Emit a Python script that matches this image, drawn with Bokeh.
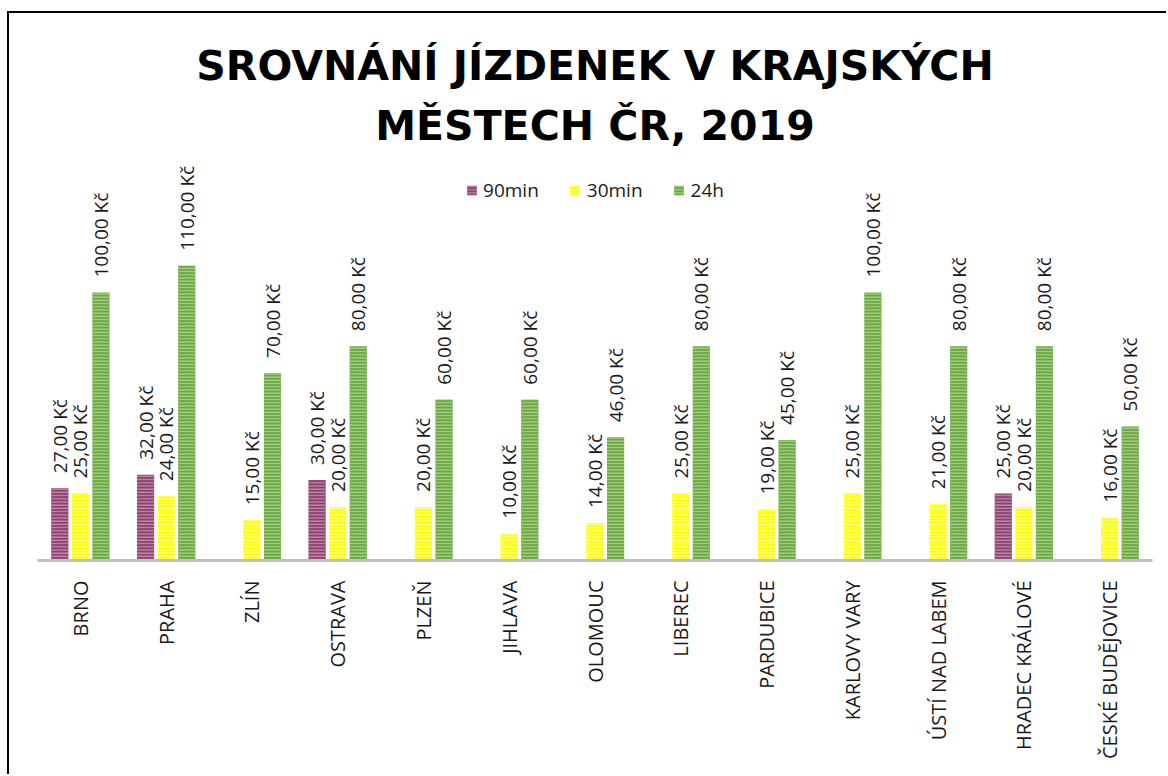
import math
from bokeh.plotting import figure
from bokeh.models import ColumnDataSource, FactorRange, Range1d, Title, Legend, LegendItem
from bokeh.transform import dodge
from bokeh.core.properties import value
from bokeh.embed import file_html
from bokeh.resources import INLINE

cities = ["BRNO", "PRAHA", "ZLÍN", "OSTRAVA", "PLZEŇ", "JIHLAVA", "OLOMOUC",
          "LIBEREC", "PARDUBICE", "KARLOVY VARY", "ÚSTÍ NAD LABEM",
          "HRADEC KRÁLOVÉ", "ČESKÉ BUDĚJOVICE"]
v90 = [27, 32, None, 30, None, None, None, None, None, None, None, 25, None]
v30 = [25, 24, 15, 20, 20, 10, 14, 25, 19, 25, 21, 20, 16]
v24 = [100, 110, 70, 80, 60, 60, 46, 80, 45, 100, 80, 80, 50]
series_names = ["90min", "30min", "24h"]

def fmt(v):
    return f"{v:.2f}".replace(".", ",") + " Kč"

def make_src(vals):
    xs = [c for c, v in zip(cities, vals) if v is not None]
    ys = [v for v in vals if v is not None]
    return ColumnDataSource(dict(city=xs, top=ys, label=[fmt(v) for v in ys]))

W, H = 1159, 763
p = figure(width=W, height=H, x_range=FactorRange(factors=cities),
           y_range=Range1d(0, 153.4), output_backend="svg", toolbar_location=None,
           y_axis_location=None, min_border_left=28, min_border_right=16,
           min_border_top=136, min_border_bottom=216)
p.outline_line_color = None
p.xgrid.grid_line_color = None
p.ygrid.grid_line_color = None
p.background_fill_color = "white"
p.border_fill_color = "white"
p.styles = {"border-left": "2px solid #000", "border-top": "2px solid #000",
            "margin-left": "7px", "margin-top": "11px"}

p.add_layout(Title(text="MĚSTECH ČR, 2019", align="center", text_font="DejaVu Sans",
                   text_font_size="41px", text_font_style="bold", text_color="#000000",
                   standoff=0), "above")
p.add_layout(Title(text="SROVNÁNÍ JÍZDENEK V KRAJSKÝCH", align="center", text_font="DejaVu Sans",
                   text_font_size="41px", text_font_style="bold", text_color="#000000",
                   standoff=19), "above")

styles = [
    dict(fill_color="#8E3F6E", hatch_color="#C08FAE"),
    dict(fill_color="#FFFF00", hatch_color="#FFFF9A"),
    dict(fill_color="#6AA83E", hatch_color="#A8D08D"),
]
offsets = [-0.24, 0.0, 0.24]
items = []
for name, vals, st, off in zip(series_names, [v90, v30, v24], styles, offsets):
    src = make_src(vals)
    r = p.vbar(x=dodge("city", off, range=p.x_range), top="top", width=0.2, source=src,
               fill_color=st["fill_color"], line_color=None,
               hatch_pattern="horizontal_line", hatch_color=st["hatch_color"],
               hatch_scale=3.2, hatch_weight=1.3)
    p.text(x=dodge("city", off, range=p.x_range), y="top", text="label", source=src,
           angle=math.pi / 2, text_align="left", text_baseline="middle",
           y_offset=-15, text_font_size="19px", text_font=value("Open Sans"),
           text_color="#1a1a1a")
    items.append(LegendItem(label=name, renderers=[r]))

legend = Legend(items=items, orientation="horizontal", location="top_center",
                border_line_color=None, background_fill_alpha=0,
                label_text_font="Open Sans", label_text_font_size="19px",
                label_text_color="#1a1a1a", glyph_width=12, glyph_height=12,
                label_standoff=6, spacing=30, margin=28, padding=0)
p.add_layout(legend)

ax = p.xaxis[0]
ax.axis_line_color = "#C0C0C0"
ax.axis_line_width = 3
ax.major_tick_line_color = None
ax.minor_tick_line_color = None
ax.major_label_orientation = math.pi / 2
ax.major_label_text_font = "Open Sans"
ax.major_label_text_font_size = "20px"
ax.major_label_text_color = "#1a1a1a"
ax.major_label_standoff = 14

open("out.html", "w").write(file_html(p, INLINE))
